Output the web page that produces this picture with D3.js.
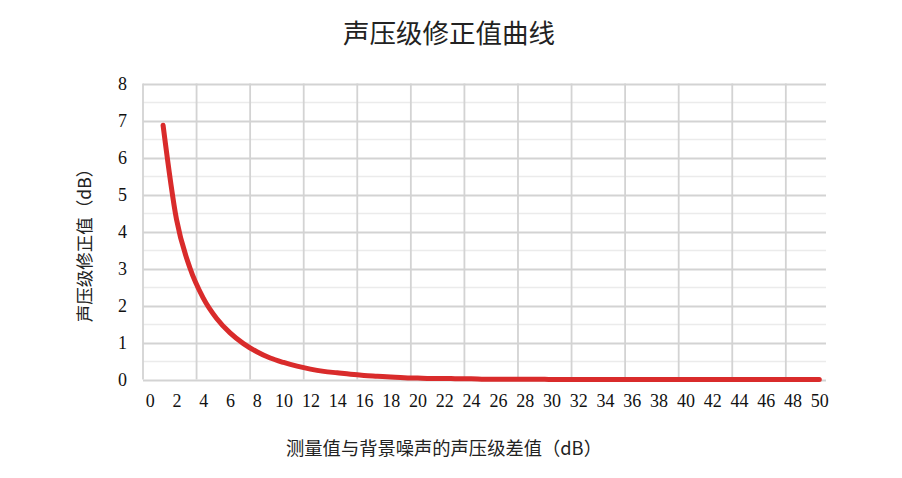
<!DOCTYPE html>
<html>
<head>
<meta charset="utf-8">
<script src="https://cdn.jsdelivr.net/npm/d3@7"></script>
<style>
html,body{margin:0;padding:0;background:#fff;}
svg{display:block;}
</style>
</head>
<body>
<svg id="chart" width="902" height="478"></svg>
<script>
const categories = d3.range(0, 51);
const diffs = [1,2,3,4,5,6,7,8,9,10,11,12,13,14,15,16,17,18,19,20,21,22,23,24,25,26,27,28,29,30,31,32,33,34,35,36,37,38,39,40,41,42,43,44,45,46,47,48,49,50];
const corrections = [6.87,4.33,3.02,2.20,1.65,1.26,0.97,0.75,0.58,0.46,0.36,0.28,0.22,0.18,0.14,0.11,0.09,0.07,0.05,0.04,0.03,0.03,0.02,0.02,0.01,0.01,0.01,0.01,0.01,0.00,0.00,0.00,0.00,0.00,0.00,0.00,0.00,0.00,0.00,0.00,0.00,0.00,0.00,0.00,0.00,0.00,0.00,0.00,0.00,0.00];
const yTicks = [0,1,2,3,4,5,6,7,8];
const xTickLabels = d3.range(0, 51, 2);
const titleText = "声压级修正值曲线";
const xTitle = "测量值与背景噪声的声压级差值（dB）";
const yTitle = "声压级修正值（dB）";

const svg = d3.select("#chart");
const pLeft = 143, pRight = 826, pTop = 83.5, pBottom = 379.5;
const serif = "'Liberation Serif','Times New Roman',serif";
const cjk = "'Noto Sans CJK SC','Liberation Serif',serif";

const x = d3.scalePoint().domain(categories).range([pLeft, pRight]).padding(0.5);
const step = x.step();
const y = d3.scaleLinear().domain([0, 8]).range([pBottom, pTop]);

// minor horizontal grid
svg.append("g").selectAll("line").data(d3.range(0.5, 8, 1)).join("line")
  .attr("x1", pLeft).attr("x2", pRight)
  .attr("y1", d => Math.round(y(d)) + 0.5).attr("y2", d => Math.round(y(d)) + 0.5)
  .attr("stroke", "#ebebeb").attr("stroke-width", 1.5);
// major horizontal grid
svg.append("g").selectAll("line").data(yTicks).join("line")
  .attr("x1", pLeft).attr("x2", pRight)
  .attr("y1", d => Math.round(y(d)) + 0.5).attr("y2", d => Math.round(y(d)) + 0.5)
  .attr("stroke", "#d3d3d3").attr("stroke-width", 1.8);
// vertical grid at category boundaries every 4
const vCats = d3.range(0, 50, 4);
svg.append("g").selectAll("line").data(vCats).join("line")
  .attr("x1", d => x(d) - step / 2).attr("x2", d => x(d) - step / 2)
  .attr("y1", pTop).attr("y2", pBottom)
  .attr("stroke", "#d3d3d3").attr("stroke-width", 1.8);

// y tick labels
const yAxis = d3.axisLeft(y).tickValues(yTicks).tickSize(0).tickPadding(0).tickFormat(d3.format("d"));
const gy = svg.append("g").attr("transform", `translate(${pLeft - 16},0)`).call(yAxis);
gy.select(".domain").remove();
gy.selectAll("text").attr("font-family", serif).attr("font-size", 18).attr("fill", "#111");

// x tick labels
const xAxis = d3.axisBottom(x).tickValues(xTickLabels).tickSize(0).tickPadding(0);
const gx = svg.append("g").attr("transform", `translate(0,${pBottom + 15})`).call(xAxis);
gx.select(".domain").remove();
gx.selectAll("text").attr("font-family", serif).attr("font-size", 18).attr("fill", "#111");

// line
const line = d3.line().x((d, i) => x(diffs[i])).y(d => y(d)).curve(d3.curveMonotoneX);
svg.append("path").datum(corrections)
  .attr("d", line).attr("fill", "none")
  .attr("stroke", "#d92b2b").attr("stroke-width", 5)
  .attr("stroke-linecap", "round").attr("stroke-linejoin", "round");

// titles
svg.append("text").attr("x", 449).attr("y", 43).attr("text-anchor", "middle")
  .attr("font-family", cjk).attr("font-size", 26.5).attr("fill", "#222").text(titleText);
svg.append("text").attr("x", 444).attr("y", 455).attr("text-anchor", "middle")
  .attr("font-family", cjk).attr("font-size", 18.3).attr("fill", "#222").text(xTitle);
svg.append("text").attr("transform", "translate(91,241) rotate(-90)").attr("text-anchor", "middle")
  .attr("font-family", cjk).attr("font-size", 17.5).attr("fill", "#222").text(yTitle);
</script>
</body>
</html>
